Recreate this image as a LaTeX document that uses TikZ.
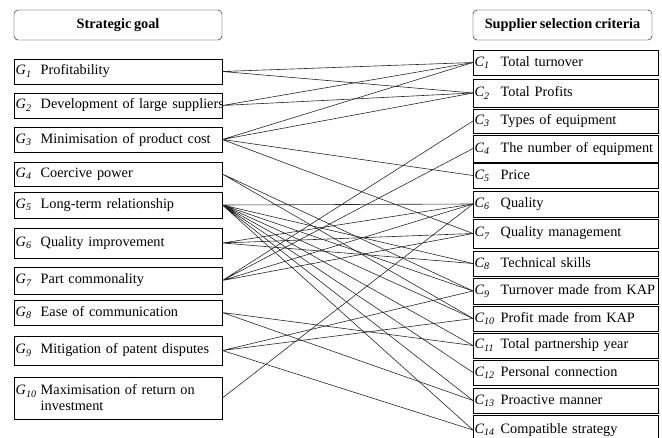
\documentclass[tikz,border=0pt]{standalone}
\usepackage{fontspec}
\setmainfont{Liberation Serif}[WordSpace=0.75]
\usetikzlibrary{positioning}

\newcommand{\glab}[1]{\makebox[25pt][l]{\itshape G\textsubscript{#1}}}
\newcommand{\clab}[1]{\makebox[26pt][l]{\itshape C\textsubscript{#1}}}

\begin{document}
\begin{tikzpicture}[x=1pt, y=-1pt,
    box/.style={draw, rectangle, anchor=west, inner xsep=1.5pt, inner ysep=0pt, align=left,
                font=\fontsize{14.3}{16}\selectfont},
    goal/.style={box, text width=205pt},
    crit/.style={box, text width=182pt},
    head/.style={draw, rounded corners=4pt, minimum height=30pt,
                 font=\fontsize{14.3}{16}\selectfont\bfseries},
    link/.style={black!85, line width=0.6pt}]
    \useasboundingbox (0,0) rectangle (662,438);
    \clip (0,0) rectangle (662,438);

    % column headers
    \node[head, minimum width=208pt] (goals) at (118,25) {Strategic goal};
    \node[head, minimum width=179pt] (crits) at (562.5,25) {Supplier selection criteria};

    % strategic goals
    \node[goal, minimum height=25pt] (g1) at (14,71.5) {\mbox{\glab{1}Profitability}};
    \node[goal, minimum height=25pt] (g2) at (14,105.5) {\mbox{\glab{2}Development of large suppliers}};
    \node[goal, minimum height=25pt] (g3) at (14,139.5) {\mbox{\glab{3}Minimisation of product cost}};
    \node[goal, minimum height=24pt] (g4) at (14,174) {\mbox{\glab{4}Coercive power}};
    \node[goal, minimum height=26pt] (g5) at (14,205) {\mbox{\glab{5}Long-term relationship}};
    \node[goal, minimum height=30pt] (g6) at (14,243) {\mbox{\glab{6}Quality improvement}};
    \node[goal, minimum height=27pt] (g7) at (14,280.5) {\mbox{\glab{7}Part commonality}};
    \node[goal, minimum height=25pt] (g8) at (14,312.5) {\mbox{\glab{8}Ease of communication}};
    \node[goal, minimum height=29pt] (g9) at (14,350.5) {\mbox{\glab{9}Mitigation of patent disputes}};
    \node[goal, minimum height=42pt] (g10) at (14,398) {\mbox{\glab{10}Maximisation of return on}\\\hspace*{25pt}investment};

    % selection criteria
    \node[crit, minimum height=25pt] (c1) at (473,62.5) {\mbox{\clab{1}Total turnover}};
    \node[crit, minimum height=28pt] (c2) at (473,93) {\mbox{\clab{2}Total Profits}};
    \node[crit, minimum height=24pt] (c3) at (473,121) {\mbox{\clab{3}Types of equipment}};
    \node[crit, minimum height=27pt] (c4) at (473,148.5) {\mbox{\clab{4}The number of equipment}};
    \node[crit, minimum height=25pt] (c5) at (473,175.5) {\mbox{\clab{5}Price}};
    \node[crit, minimum height=26pt] (c6) at (473,204) {\mbox{\clab{6}Quality}};
    \node[crit, minimum height=29pt] (c7) at (473,233.5) {\mbox{\clab{7}Quality management}};
    \node[crit, minimum height=25pt] (c8) at (473,263.5) {\mbox{\clab{8}Technical skills}};
    \node[crit, minimum height=26pt] (c9) at (473,291) {\mbox{\clab{9}Turnover made from KAP}};
    \node[crit, minimum height=25pt] (c10) at (473,318.5) {\mbox{\clab{10}Profit made from KAP}};
    \node[crit, minimum height=25pt] (c11) at (473,345.5) {\mbox{\clab{11}Total partnership year}};
    \node[crit, minimum height=25pt] (c12) at (473,372.5) {\mbox{\clab{12}Personal connection}};
    \node[crit, minimum height=25pt] (c13) at (473,400.5) {\mbox{\clab{13}Proactive manner}};
    \node[crit, minimum height=30pt] (c14) at (473,430) {\mbox{\clab{14}Compatible strategy}};

    % goal -> criterion links
    \draw[link] (g1.east) -- (c1.west) (g1.east) -- (c2.west);
    \draw[link] (g2.east) -- (c1.west) (g2.east) -- (c2.west);
    \draw[link] (g3.east) -- (c1.west) (g3.east) -- (c2.west)
                (g3.east) -- (c5.west) (g3.east) -- (c7.west);
    \draw[link] (g4.east) -- (c9.west) (g4.east) -- (c10.west);
    \draw[link] (g5.east) -- (c6.west) (g5.east) -- (c8.west)
                (g5.east) -- (c9.west) (g5.east) -- (c10.west)
                (g5.east) -- (c11.west) (g5.east) -- (c12.west)
                (g5.east) -- (c13.west) (g5.east) -- (c14.west);
    \draw[link] (g6.east) -- (c6.west) (g6.east) -- (c7.west)
                (g6.east) -- (c8.west);
    \draw[link] (g7.east) -- (c3.west) (g7.east) -- (c4.west)
                (g7.east) -- (c6.west) (g7.east) -- (c7.west);
    \draw[link] (g8.east) -- (c11.west) (g8.east) -- (c13.west);
    \draw[link] (g9.east) -- (c9.west) (g9.east) -- (c10.west)
                (g9.east) -- (c14.west);
    \draw[link] (g10.east) -- (c6.west);
\end{tikzpicture}
\end{document}
